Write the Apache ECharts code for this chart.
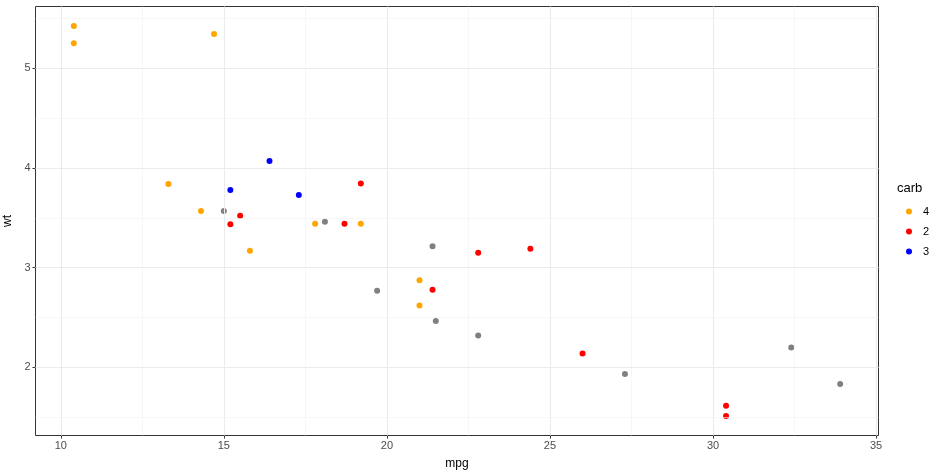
<!DOCTYPE html>
<html>
<head>
<meta charset="utf-8">
<script src="https://cdn.jsdelivr.net/npm/echarts@6/dist/echarts.min.js"></script>
<style>
  html, body { margin: 0; padding: 0; background: #fff; }
  #chart { width: 944px; height: 476px; }
</style>
</head>
<body>
<div id="chart"></div>
<script>
// mtcars: mpg vs wt, coloured by carb
const mpg = [21.0, 21.0, 22.8, 21.4, 18.7, 18.1, 14.3, 24.4, 22.8, 19.2, 17.8, 16.4, 17.3, 15.2, 10.4, 10.4,
  14.7, 32.4, 30.4, 33.9, 21.5, 15.5, 15.2, 13.3, 19.2, 27.3, 26.0, 30.4, 15.8, 19.7, 15.0, 21.4];
const wt = [2.620, 2.875, 2.320, 3.215, 3.440, 3.460, 3.570, 3.190, 3.150, 3.440, 3.440, 4.070, 3.730, 3.780, 5.250, 5.424,
  5.345, 2.200, 1.615, 1.835, 2.465, 3.520, 3.435, 3.840, 3.845, 1.935, 2.140, 1.513, 3.170, 2.770, 3.570, 2.780];
const carb = [4, 4, 1, 1, 2, 1, 4, 2, 2, 4, 4, 3, 3, 3, 4, 4, 4, 1, 2, 1, 1, 2, 2, 4, 2, 1, 2, 2, 4, 6, 8, 2];

const legendGroups = ['4', '2', '3'];
const groupColors = { '4': '#FFA500', '2': '#FF0000', '3': '#0000FF', other: '#808080' };

const xTicks = [10, 15, 20, 25, 30, 35];
const xMinor = [12.5, 17.5, 22.5, 27.5, 32.5];
const yTicks = [2, 3, 4, 5];
const yMinor = [1.5, 2.5, 3.5, 4.5, 5.5];

const chart = echarts.init(document.getElementById('chart'));

function pointsFor(test) {
  const out = [];
  for (let i = 0; i < mpg.length; i++) {
    if (test(String(carb[i]))) out.push([mpg[i], wt[i]]);
  }
  return out;
}

// panel grid lines (major + minor), drawn under the points
const major = { color: '#EBEBEB', width: 1.1, type: 'solid' };
const minor = { color: '#F2F2F2', width: 0.6, type: 'solid' };
const gridLines = [];
xTicks.forEach(v => gridLines.push({ xAxis: v, lineStyle: major }));
xMinor.forEach(v => gridLines.push({ xAxis: v, lineStyle: minor }));
yTicks.forEach(v => gridLines.push({ yAxis: v, lineStyle: major }));
yMinor.forEach(v => gridLines.push({ yAxis: v, lineStyle: minor }));

const series = [
  {
    name: 'grid',
    type: 'scatter',
    data: [],
    z: 1,
    silent: true,
    markLine: {
      silent: true,
      symbol: 'none',
      label: { show: false },
      animation: false,
      lineStyle: { type: 'solid' },
      data: gridLines
    }
  },
  {
    name: 'other',
    type: 'scatter',
    symbolSize: 6,
    z: 3,
    itemStyle: { color: groupColors.other, opacity: 1 },
    data: pointsFor(c => !legendGroups.includes(c))
  }
];
legendGroups.forEach(g => {
  series.push({
    name: g,
    type: 'scatter',
    symbolSize: 6,
    z: 3,
    itemStyle: { color: groupColors[g], opacity: 1 },
    data: pointsFor(c => c === g)
  });
});

const option = {
  animation: false,
  textStyle: { fontFamily: 'Liberation Sans, Arial, sans-serif' },
  grid: {
    left: 35.5, top: 6.5, right: 65.5, bottom: 40.5,
    outerBoundsMode: 'none',
    containLabel: false,
    show: true, borderColor: '#333333', borderWidth: 1, backgroundColor: '#fff'
  },
  title: {
    text: 'carb',
    left: 892, top: 177,
    textStyle: { fontSize: 13, fontWeight: 'normal', color: '#000' }
  },
  legend: {
    data: legendGroups,
    orient: 'vertical',
    left: 901, top: 201,
    icon: 'circle',
    itemWidth: 6, itemHeight: 6,
    itemGap: 9,
    textStyle: { fontSize: 11, color: '#000', padding: [0, 0, 0, 6] }
  },
  xAxis: {
    type: 'value',
    min: 9.225, max: 35.075,
    name: 'mpg',
    nameLocation: 'middle',
    nameGap: 22,
    nameTextStyle: { fontSize: 12, color: '#000' },
    axisLine: { show: false },
    splitLine: { show: false },
    axisTick: { show: true, length: 3, customValues: xTicks, lineStyle: { color: '#333' } },
    axisLabel: { customValues: xTicks, margin: 5, fontSize: 11, color: '#4D4D4D' }
  },
  yAxis: {
    type: 'value',
    min: 1.31745, max: 5.61955,
    name: 'wt',
    nameLocation: 'middle',
    nameGap: 17,
    nameTextStyle: { fontSize: 12, color: '#000' },
    axisLine: { show: false },
    splitLine: { show: false },
    axisTick: { show: true, length: 3, customValues: yTicks, lineStyle: { color: '#333' } },
    axisLabel: { customValues: yTicks, margin: 5, fontSize: 11, color: '#4D4D4D' }
  },
  series: series
};

chart.setOption(option);
</script>
</body>
</html>
